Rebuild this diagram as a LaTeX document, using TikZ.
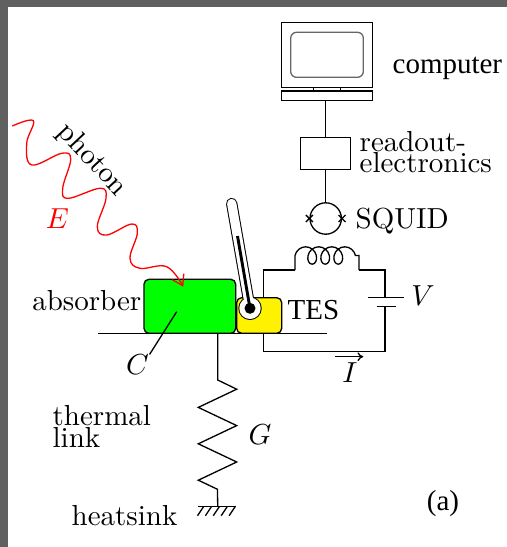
\documentclass[tikz,border=0pt]{standalone}
\usepackage{amsmath}
\usepackage{fontspec}
\newfontfamily\timesfont{Liberation Serif}
\usetikzlibrary{decorations.pathmorphing}
\usetikzlibrary{arrows.meta}
\newdimen\px
\px=0.345pt
\definecolor{framegray}{RGB}{96,96,96}

\begin{document}
\begin{tikzpicture}[x=0.345pt, y=-0.345pt, line width=0.45pt,
    box/.style={draw, inner sep=0pt},
    lbl/.style={inner sep=0pt}]
  % frame and canvas
  \fill[framegray] (0,0) rectangle (507,547);
  \fill[white] (8,7) rectangle (507,547);
  \useasboundingbox (0,0) rectangle (507,547);

  % computer
  \node[box, minimum width=90.6*\px, minimum height=65*\px] (monitor) at (327,54.8) {};
  \draw[black!60, rounded corners=2pt] (290.7,32.3) rectangle (363.3,77.3);
  \node[box, minimum width=90.6*\px, minimum height=9.7*\px] (kbd) at (327,95.85) {};
  \draw (313.3,87.3) -- (313.3,91) (340.7,87.3) -- (340.7,91);
  \node[lbl, anchor=base west, font=\timesfont] (comptxt) at (392,74) {computer};

  % readout chain
  \node[box, minimum width=50*\px, minimum height=31.6*\px] (readout) at (325.7,153.5) {};
  \node[lbl, anchor=west, align=left] (readtxt) at (359,152.3) {readout-\\[-4.6pt]electronics};
  \node[draw, circle, inner sep=0pt, minimum size=31.4*\px] (squid) at (325.7,218.5) {};
  \draw (kbd.south -| readout.north) -- (readout.north);
  \draw (readout.south) -- (squid.north);
  \foreach \side in {west,east}
    \draw (squid.\side) ++(-3.5,-3.5) -- ++(7,7) ++(-7,0) -- ++(7,-7);
  \node[lbl, anchor=base west] (squidtxt) at (355,228.3) {SQUID};

  % absorber and TES on the substrate
  \node[box, fill=green, rounded corners=1.7pt, minimum width=91.7*\px,
        minimum height=54*\px] (absorber) at (189.85,306.3) {};
  \node[box, fill=yellow, rounded corners=1.7pt, minimum width=45*\px,
        minimum height=35.6*\px] (tes) at (259.2,315.5) {};
  \coordinate (subL) at (98.3,333.3);
  \coordinate (subR) at (327.3,333.3);
  \draw (subL) -- (subR);
  \node[lbl, anchor=base east] (abstxt) at (142,310.7) {absorber};
  \node[lbl, anchor=base west, font=\timesfont] (testxt) at (287,319.3) {TES};
  \node[lbl] (heatcap) at (137.5,365) {$C$};
  \coordinate (cIn) at (176.7,311.7);
  \draw (heatcap.north east) -- (cIn);

  % bias circuit
  \coordinate (tl) at (263.3,270);
  \coordinate (coilL) at (295,270);
  \coordinate (coilR) at (359,270);
  \coordinate (tr) at (385,270);
  \coordinate (batP) at (385,297.7);
  \coordinate (batN) at (385,306.7);
  \coordinate (br) at (385,351.7);
  \coordinate (bl) at (263.3,351.7);
  \draw (tes.north -| tl) -- (tl) -- (coilL);
  \draw (coilL) -- (295,255.5)
    decorate[decoration={coil, aspect=0.85, segment length=4.5pt, amplitude=3pt}]
    {-- (359,255.5)} -- (coilR);
  \draw (coilR) -- (tr) -- (batP);
  \draw (batN) -- (br) -- (bl) -- (tes.south -| bl);
  \draw (batP) +(-16.7,0) -- +(19,0);
  \draw (batN) +(-8.3,0) -- +(10.7,0);
  \node[lbl] (volt) at (423,296) {$V$};
  \coordinate (iS) at (335,356.7);
  \coordinate (iE) at (363.3,356.7);
  \draw[-{To[length=2pt,width=3pt]}] (iS) -- (iE);
  \node[lbl] (cur) at (350,373) {$I$};

  % thermometer
  \coordinate (thTop) at (231.7,203.5);
  \coordinate (bulb) at (250,308.3);
  \coordinate (merc) at (237.5,236);
  \draw[line width=3.9pt, line cap=round] (thTop) -- (bulb);
  \fill (bulb) circle[radius=4.05pt];
  \draw[white, line width=3.2pt, line cap=round] (thTop) -- (bulb);
  \fill[white] (bulb) circle[radius=3.7pt];
  \draw[line width=1pt] (merc) -- (bulb);
  \fill (bulb) circle[radius=1.9pt];

  % thermal link to the heatsink
  \coordinate (zz) at (217.7,380);
  \coordinate (gnd) at (217.7,506.7);
  \draw (absorber.south -| gnd) -- (zz) -- ++(19,9.2)
    \foreach \i in {1,2} { -- ++(-38.4,18.2) -- ++(38.4,18.2) }
    -- ++(-38.4,18.2) -- ++(19.2,9.1) -- (gnd);
  \draw (gnd) +(-19.4,0) -- +(18,0);
  \foreach \i in {0,...,4}
    \draw (203.5+7.9*\i,506.7) -- ++(-6,9);
  \node[lbl] (glbl) at (260,435) {$G$};
  \node[lbl, anchor=west, align=left] (linktxt) at (52,426.4) {thermal\\[-4.2pt]link};
  \node[lbl, anchor=base] (sinktxt) at (124.5,525) {heatsink};

  % incoming photon
  \coordinate (phTip) at (183.3,286.7);
  \draw[red, -{Straight Barb[length=3.5pt,width=4.5pt]}]
    plot[smooth, tension=0.65] coordinates {
      (12.3,126) (33.3,120.7) (26.7,143.3) (31.7,165) (61.7,153.3)
      (70.7,159.3) (62.7,188.3) (68.3,198.3) (100,188.3) (106,198.3)
      (97.3,226.7) (106.7,235) (131.7,224) (137.3,233.3) (130,258.3)
      (140,268.3) (166.7,266.7) (phTip)};
  \node[lbl, rotate=-47] (phtxt) at (92,160) {photon};
  \node[lbl, red] (energy) at (57.5,218.3) {$E$};

  \node[lbl, anchor=base, font=\timesfont] (tag) at (443,510) {(a)};
\end{tikzpicture}
\end{document}
